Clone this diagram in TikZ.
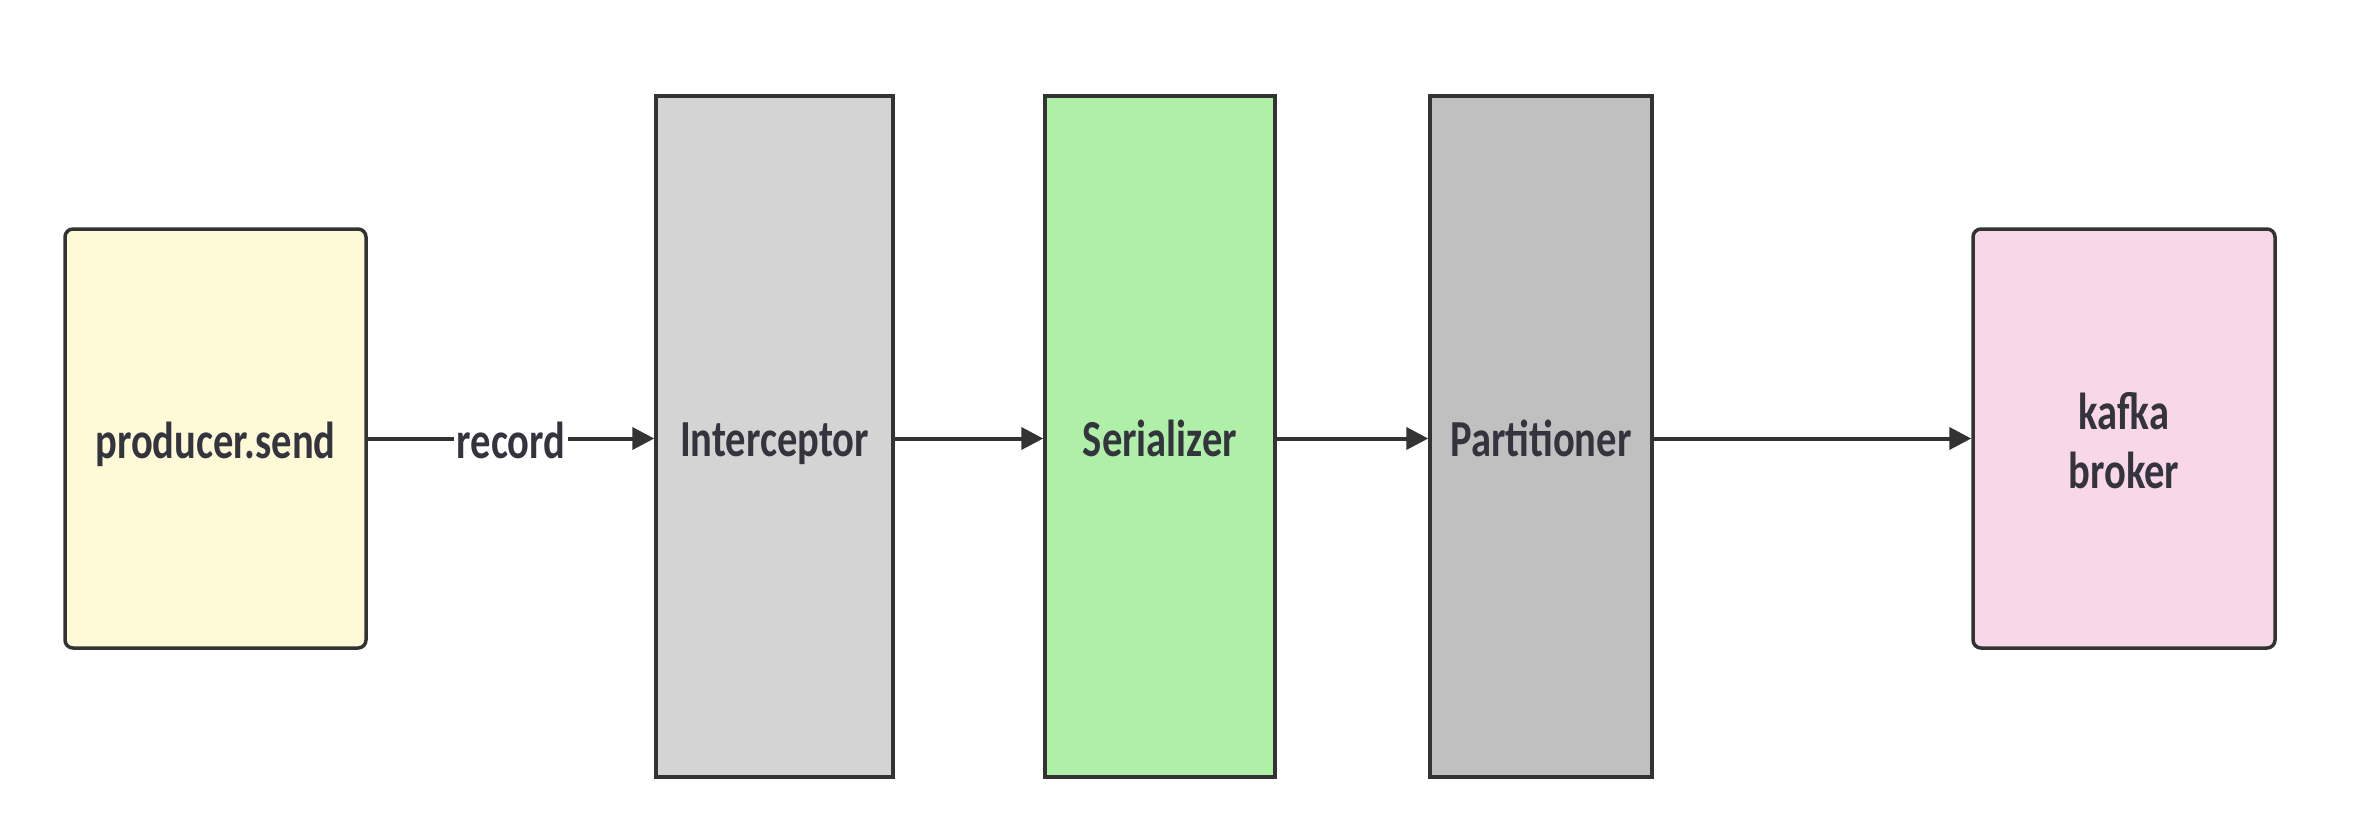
\documentclass[tikz,border=0pt]{standalone}
\usepackage{fontspec}
\setmainfont{Carlito}[FakeStretch=0.78]
\usetikzlibrary{arrows.meta}
\definecolor{edge}{HTML}{333333}
\definecolor{txt}{HTML}{33343D}
\definecolor{cprod}{HTML}{FEFAD7}
\definecolor{cinter}{HTML}{D4D4D4}
\definecolor{cser}{HTML}{B0EFA8}
\definecolor{cpart}{HTML}{C0C0C0}
\definecolor{ckafka}{HTML}{F8D8E8}
\begin{document}
\begin{tikzpicture}[x=1pt,y=-1pt,
  box/.style={draw=edge, line width=3.5pt, inner sep=0pt, align=center,
    font=\fontsize{52}{59}\selectfont\bfseries, text=txt, text height=40pt, text depth=0pt},
  conn/.style={draw=edge, line width=4pt, -{Triangle[length=22pt,width=22pt]}},
  lbl/.style={fill=white, inner sep=3pt, font=\fontsize{52}{59}\selectfont\bfseries, text=txt, text height=40pt, text depth=0pt}]
\useasboundingbox[fill=white] (0,0) rectangle (2362,828);
\node[box, fill=cprod, rounded corners=8pt, minimum width=301pt, minimum height=419pt] (prod) at (215.5,438.5) {producer.send};
\node[box, fill=cinter, minimum width=237pt, minimum height=681pt] (inter) at (774.5,436.5) {Interceptor};
\node[box, fill=cser, minimum width=230pt, minimum height=681pt] (ser) at (1160,436.5) {Serializer};
\node[box, fill=cpart, minimum width=222pt, minimum height=681pt] (part) at (1541,436.5) {Partitioner};
\node[box, fill=ckafka, rounded corners=8pt, minimum width=302pt, minimum height=419pt, text height=100pt, text depth=0pt] (kafka) at (2124,438.5) {kafka\\broker};
\draw[conn] (prod.east) -- node[lbl] {record} (prod.east -| inter.west);
\draw[conn] (inter.east |- prod.east) -- (prod.east -| ser.west);
\draw[conn] (ser.east |- prod.east) -- (prod.east -| part.west);
\draw[conn] (part.east |- prod.east) -- (kafka.west);
\end{tikzpicture}
\end{document}
